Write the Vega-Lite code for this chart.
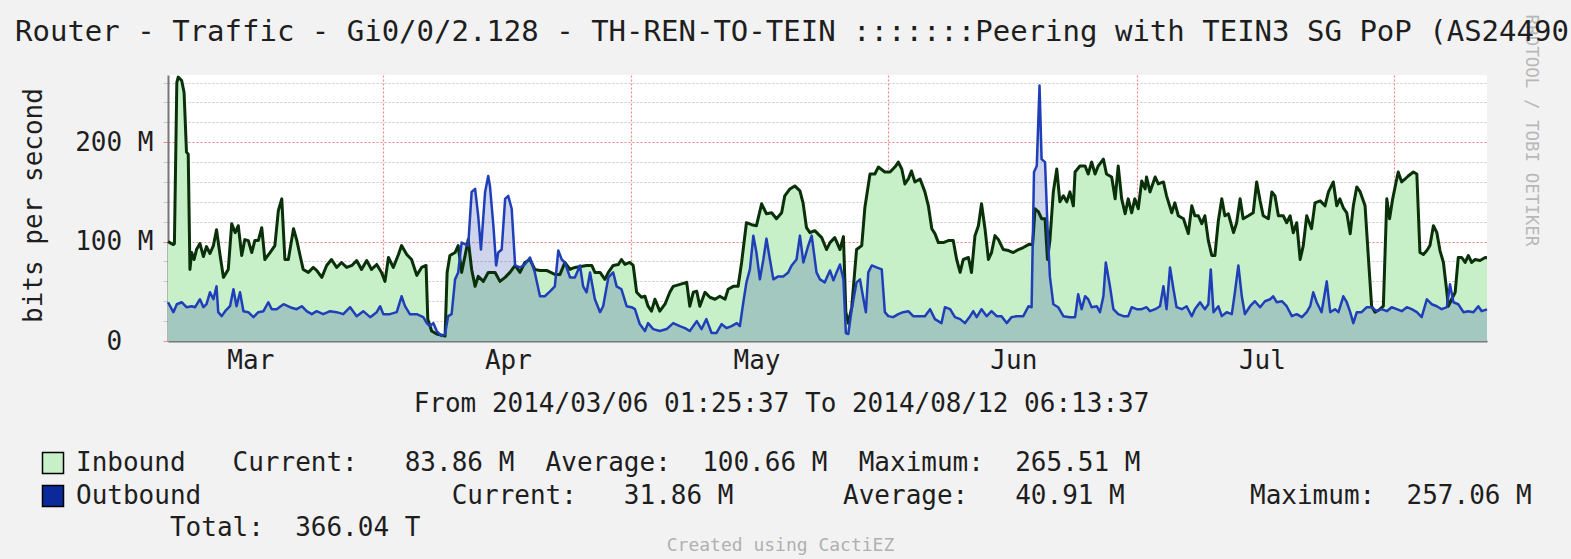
{
"$schema":"https://vega.github.io/schema/vega-lite/v6.json",
"width":1319,"height":266,
"autosize":{"type":"none"},
"padding":{"left":168,"top":75,"right":84,"bottom":218},
"background":"#f2f2f2",
"view":{"fill":"#ffffff","stroke":null},
"config":{"font":"DejaVu Sans Mono"},
"title":{"text":"Router - Traffic - Gi0/0/2.128 - TH-REN-TO-TEIN :::::::Peering with TEIN3 SG PoP (AS24490)","anchor":"start","frame":"group","dx":-153,"dy":93,"offset":37,"baseline":"alphabetic","font":"DejaVu Sans Mono","fontSize":29,"fontWeight":"normal","color":"#1e1e1e"},
"datasets":{
"inbound":[
{"t":"2014-03-06T01:26","v":100},{"t":"2014-03-06T17:00","v":97},{"t":"2014-03-06T20:00","v":98},{"t":"2014-03-07T03:00","v":260},{"t":"2014-03-07T07:00","v":265.5},{"t":"2014-03-07T17:00","v":262},{"t":"2014-03-08T00:00","v":250},{"t":"2014-03-08T07:00","v":190},{"t":"2014-03-08T12:00","v":188},{"t":"2014-03-08T17:00","v":72},{"t":"2014-03-08T22:00","v":89},{"t":"2014-03-09T05:00","v":82},{"t":"2014-03-09T12:00","v":92},{"t":"2014-03-09T22:00","v":98},{"t":"2014-03-10T08:00","v":85},{"t":"2014-03-10T17:00","v":95},{"t":"2014-03-11T03:00","v":88},{"t":"2014-03-11T13:00","v":96},{"t":"2014-03-11T22:00","v":112},{"t":"2014-03-12T08:00","v":87},{"t":"2014-03-12T18:00","v":64},{"t":"2014-03-13T08:00","v":72},{"t":"2014-03-13T18:00","v":118},{"t":"2014-03-14T04:00","v":109},{"t":"2014-03-14T13:00","v":116},{"t":"2014-03-14T23:00","v":86},{"t":"2014-03-15T08:00","v":102},{"t":"2014-03-15T18:00","v":101},{"t":"2014-03-16T04:00","v":89},{"t":"2014-03-16T13:00","v":101},{"t":"2014-03-16T23:00","v":101},{"t":"2014-03-17T09:00","v":114},{"t":"2014-03-17T18:00","v":82},{"t":"2014-03-18T09:00","v":89},{"t":"2014-03-18T23:00","v":96},{"t":"2014-03-19T09:00","v":131},{"t":"2014-03-19T19:00","v":143},{"t":"2014-03-20T04:00","v":82},{"t":"2014-03-20T14:00","v":82},{"t":"2014-03-21T05:00","v":113},{"t":"2014-03-21T14:00","v":102},{"t":"2014-03-22T00:00","v":86},{"t":"2014-03-22T09:00","v":72},{"t":"2014-03-23T00:00","v":69},{"t":"2014-03-23T14:00","v":74},{"t":"2014-03-24T00:00","v":71},{"t":"2014-03-24T15:00","v":64},{"t":"2014-03-25T05:00","v":76},{"t":"2014-03-25T19:00","v":82},{"t":"2014-03-26T10:00","v":74},{"t":"2014-03-27T00:00","v":79},{"t":"2014-03-27T15:00","v":74},{"t":"2014-03-28T06:00","v":76},{"t":"2014-03-28T20:00","v":81},{"t":"2014-03-29T10:00","v":72},{"t":"2014-03-30T01:00","v":81},{"t":"2014-03-30T15:00","v":72},{"t":"2014-03-31T06:00","v":77},{"t":"2014-03-31T20:00","v":69},{"t":"2014-04-01T06:00","v":60},{"t":"2014-04-01T16:00","v":84},{"t":"2014-04-02T06:00","v":74},{"t":"2014-04-02T21:00","v":87},{"t":"2014-04-03T06:00","v":96},{"t":"2014-04-03T21:00","v":87},{"t":"2014-04-04T11:00","v":82},{"t":"2014-04-05T02:00","v":66},{"t":"2014-04-05T16:00","v":74},{"t":"2014-04-06T05:00","v":76},{"t":"2014-04-06T10:00","v":22},{"t":"2014-04-06T21:00","v":10},{"t":"2014-04-07T12:00","v":7},{"t":"2014-04-08T12:00","v":5},{"t":"2014-04-08T18:00","v":69},{"t":"2014-04-09T02:00","v":86},{"t":"2014-04-09T17:00","v":89},{"t":"2014-04-10T02:00","v":96},{"t":"2014-04-10T12:00","v":69},{"t":"2014-04-10T22:00","v":86},{"t":"2014-04-11T07:00","v":102},{"t":"2014-04-11T17:00","v":72},{"t":"2014-04-12T03:00","v":55},{"t":"2014-04-12T12:00","v":65},{"t":"2014-04-13T03:00","v":60},{"t":"2014-04-13T17:00","v":69},
{"t":"2014-04-14T13:00","v":69},{"t":"2014-04-15T03:00","v":60},{"t":"2014-04-15T18:00","v":64},{"t":"2014-04-16T08:00","v":69},{"t":"2014-04-16T23:00","v":76},{"t":"2014-04-17T13:00","v":69},{"t":"2014-04-18T03:00","v":79},{"t":"2014-04-18T18:00","v":82},{"t":"2014-04-19T08:00","v":72},{"t":"2014-04-19T23:00","v":71},{"t":"2014-04-20T18:00","v":71},{"t":"2014-04-21T18:00","v":67},{"t":"2014-04-22T09:00","v":67},{"t":"2014-04-22T23:00","v":79},{"t":"2014-04-23T14:00","v":72},{"t":"2014-04-24T04:00","v":74},{"t":"2014-04-25T14:00","v":76},{"t":"2014-04-26T05:00","v":76},{"t":"2014-04-26T14:00","v":69},{"t":"2014-04-27T05:00","v":69},{"t":"2014-04-27T19:00","v":62},{"t":"2014-04-28T05:00","v":69},{"t":"2014-04-28T19:00","v":76},{"t":"2014-04-29T10:00","v":77},{"t":"2014-04-29T19:00","v":82},{"t":"2014-04-30T05:00","v":77},{"t":"2014-04-30T19:00","v":79},{"t":"2014-05-01T05:00","v":76},{"t":"2014-05-01T15:00","v":49},{"t":"2014-05-02T05:00","v":44},{"t":"2014-05-02T15:00","v":45},{"t":"2014-05-03T00:00","v":35},{"t":"2014-05-03T10:00","v":30},{"t":"2014-05-03T20:00","v":42},{"t":"2014-05-04T10:00","v":30},{"t":"2014-05-05T01:00","v":37},{"t":"2014-05-05T15:00","v":49},{"t":"2014-05-06T01:00","v":55},{"t":"2014-05-07T16:00","v":59},{"t":"2014-05-08T01:00","v":35},{"t":"2014-05-08T11:00","v":49},{"t":"2014-05-08T21:00","v":50},{"t":"2014-05-09T06:00","v":35},{"t":"2014-05-09T21:00","v":49},{"t":"2014-05-10T11:00","v":44},{"t":"2014-05-11T02:00","v":42},{"t":"2014-05-11T16:00","v":45},{"t":"2014-05-12T07:00","v":42},{"t":"2014-05-12T16:00","v":52},{"t":"2014-05-13T07:00","v":55},{"t":"2014-05-13T21:00","v":55},{"t":"2014-05-14T07:00","v":79},{"t":"2014-05-14T21:00","v":119},{"t":"2014-05-15T12:00","v":117},{"t":"2014-05-16T02:00","v":116},{"t":"2014-05-16T17:00","v":138},{"t":"2014-05-17T07:00","v":128},{"t":"2014-05-17T22:00","v":129},{"t":"2014-05-18T12:00","v":123},{"t":"2014-05-19T03:00","v":129},{"t":"2014-05-19T12:00","v":146},{"t":"2014-05-20T03:00","v":153},{"t":"2014-05-20T17:00","v":156},{"t":"2014-05-21T08:00","v":151},{"t":"2014-05-21T17:00","v":139},{"t":"2014-05-22T03:00","v":114},{"t":"2014-05-22T13:00","v":109},{"t":"2014-05-23T03:00","v":111},
{"t":"2014-05-23T23:00","v":104},{"t":"2014-05-24T13:00","v":92},{"t":"2014-05-24T23:00","v":99},{"t":"2014-05-25T13:00","v":104},{"t":"2014-05-26T04:00","v":92},{"t":"2014-05-26T14:00","v":105},{"t":"2014-05-26T21:00","v":29},{"t":"2014-05-27T04:00","v":18},{"t":"2014-05-27T14:00","v":34},{"t":"2014-05-28T04:00","v":92},{"t":"2014-05-28T19:00","v":96},{"t":"2014-05-29T04:00","v":134},{"t":"2014-05-29T19:00","v":168},{"t":"2014-05-30T09:00","v":168},{"t":"2014-05-30T19:00","v":175},{"t":"2014-05-31T14:00","v":170},{"t":"2014-06-01T05:00","v":170},{"t":"2014-06-01T19:00","v":175},{"t":"2014-06-02T05:00","v":180},{"t":"2014-06-02T15:00","v":173},{"t":"2014-06-03T00:00","v":158},{"t":"2014-06-03T10:00","v":163},{"t":"2014-06-03T19:00","v":171},{"t":"2014-06-04T05:00","v":160},{"t":"2014-06-04T20:00","v":163},{"t":"2014-06-05T10:00","v":150},{"t":"2014-06-05T20:00","v":136},{"t":"2014-06-06T06:00","v":113},{"t":"2014-06-06T15:00","v":108},{"t":"2014-06-07T01:00","v":99},{"t":"2014-06-07T15:00","v":99},{"t":"2014-06-08T06:00","v":101},{"t":"2014-06-08T20:00","v":101},{"t":"2014-06-09T06:00","v":82},{"t":"2014-06-09T16:00","v":69},{"t":"2014-06-10T01:00","v":82},{"t":"2014-06-10T16:00","v":84},{"t":"2014-06-11T01:00","v":69},{"t":"2014-06-11T11:00","v":106},{"t":"2014-06-11T21:00","v":116},{"t":"2014-06-12T06:00","v":138},{"t":"2014-06-12T16:00","v":113},{"t":"2014-06-13T02:00","v":82},{"t":"2014-06-13T11:00","v":89},{"t":"2014-06-13T21:00","v":106},{"t":"2014-06-14T07:00","v":102},{"t":"2014-06-14T21:00","v":92},{"t":"2014-06-15T12:00","v":91},{"t":"2014-06-16T02:00","v":89},{"t":"2014-06-16T17:00","v":92},{"t":"2014-06-17T07:00","v":94},{"t":"2014-06-17T22:00","v":97},{"t":"2014-06-18T10:00","v":97},{"t":"2014-06-18T17:00","v":133},{"t":"2014-06-19T03:00","v":130},{"t":"2014-06-19T12:00","v":123},{"t":"2014-06-19T22:00","v":123},{"t":"2014-06-20T05:00","v":82},{"t":"2014-06-20T12:00","v":101},{"t":"2014-06-20T22:00","v":150},{"t":"2014-06-21T08:00","v":173},{"t":"2014-06-21T17:00","v":140},{"t":"2014-06-22T03:00","v":146},{"t":"2014-06-22T13:00","v":140},{"t":"2014-06-22T22:00","v":150},{"t":"2014-06-23T08:00","v":136},{"t":"2014-06-23T13:00","v":170},{"t":"2014-06-24T03:00","v":176},{"t":"2014-06-24T18:00","v":176},{"t":"2014-06-25T03:00","v":168},{"t":"2014-06-25T13:00","v":180},{"t":"2014-06-25T23:00","v":168},{"t":"2014-06-26T08:00","v":176},{"t":"2014-06-26T23:00","v":183},{"t":"2014-06-27T08:00","v":168},{"t":"2014-06-27T23:00","v":165},{"t":"2014-06-28T09:00","v":143},{"t":"2014-06-28T18:00","v":176},{"t":"2014-06-29T04:00","v":143},{"t":"2014-06-29T14:00","v":128},{"t":"2014-06-29T23:00","v":143},{"t":"2014-06-30T09:00","v":129},{"t":"2014-06-30T18:00","v":143},{"t":"2014-07-01T04:00","v":133},{"t":"2014-07-01T14:00","v":161},{"t":"2014-07-02T00:00","v":153},
{"t":"2014-07-02T04:00","v":165},{"t":"2014-07-02T14:00","v":150},{"t":"2014-07-03T05:00","v":165},{"t":"2014-07-03T14:00","v":158},{"t":"2014-07-04T05:00","v":160},{"t":"2014-07-04T14:00","v":146},{"t":"2014-07-05T05:00","v":129},{"t":"2014-07-05T14:00","v":139},{"t":"2014-07-06T00:00","v":126},{"t":"2014-07-06T15:00","v":123},{"t":"2014-07-07T05:00","v":108},{"t":"2014-07-07T15:00","v":136},{"t":"2014-07-08T00:00","v":126},{"t":"2014-07-08T10:00","v":126},{"t":"2014-07-08T20:00","v":118},{"t":"2014-07-09T05:00","v":126},{"t":"2014-07-09T15:00","v":101},{"t":"2014-07-10T01:00","v":86},{"t":"2014-07-10T10:00","v":86},{"t":"2014-07-10T20:00","v":121},{"t":"2014-07-11T06:00","v":143},{"t":"2014-07-11T15:00","v":126},{"t":"2014-07-12T01:00","v":128},{"t":"2014-07-12T16:00","v":109},{"t":"2014-07-13T01:00","v":119},{"t":"2014-07-13T11:00","v":143},{"t":"2014-07-13T20:00","v":123},{"t":"2014-07-14T11:00","v":126},{"t":"2014-07-15T01:00","v":129},{"t":"2014-07-15T11:00","v":160},{"t":"2014-07-15T21:00","v":141},{"t":"2014-07-16T06:00","v":126},{"t":"2014-07-16T21:00","v":123},{"t":"2014-07-17T07:00","v":150},{"t":"2014-07-17T16:00","v":146},{"t":"2014-07-18T02:00","v":126},{"t":"2014-07-18T16:00","v":126},{"t":"2014-07-19T02:00","v":119},{"t":"2014-07-19T12:00","v":126},{"t":"2014-07-19T21:00","v":109},{"t":"2014-07-20T07:00","v":119},{"t":"2014-07-20T17:00","v":82},{"t":"2014-07-21T02:00","v":96},{"t":"2014-07-21T12:00","v":126},{"t":"2014-07-22T02:00","v":113},{"t":"2014-07-22T12:00","v":139},{"t":"2014-07-23T03:00","v":141},{"t":"2014-07-23T17:00","v":136},{"t":"2014-07-24T03:00","v":150},{"t":"2014-07-24T17:00","v":160},{"t":"2014-07-25T03:00","v":136},{"t":"2014-07-25T12:00","v":143},{"t":"2014-07-25T22:00","v":134},{"t":"2014-07-26T08:00","v":129},{"t":"2014-07-26T18:00","v":108},{"t":"2014-07-27T03:00","v":136},{"t":"2014-07-27T13:00","v":155},{"t":"2014-07-27T23:00","v":150},{"t":"2014-07-28T13:00","v":136},{"t":"2014-07-28T23:00","v":82},{"t":"2014-07-29T08:00","v":35},{"t":"2014-07-29T18:00","v":29},{"t":"2014-07-30T08:00","v":32},{"t":"2014-07-30T18:00","v":35},{"t":"2014-07-31T04:00","v":143},{"t":"2014-07-31T12:00","v":123},{"t":"2014-07-31T21:00","v":143},{"t":"2014-08-01T04:00","v":155},{"t":"2014-08-01T13:00","v":170},{"t":"2014-08-01T23:00","v":160},{"t":"2014-08-02T09:00","v":163},{"t":"2014-08-02T18:00","v":166},{"t":"2014-08-03T09:00","v":170},{"t":"2014-08-03T19:00","v":168},{"t":"2014-08-04T04:00","v":89},{"t":"2014-08-04T14:00","v":87},{"t":"2014-08-05T00:00","v":91},{"t":"2014-08-05T09:00","v":96},{"t":"2014-08-05T19:00","v":116},{"t":"2014-08-06T05:00","v":109},{"t":"2014-08-06T14:00","v":91},{"t":"2014-08-07T00:00","v":79},{"t":"2014-08-07T10:00","v":49},{"t":"2014-08-07T14:00","v":35},{"t":"2014-08-08T00:00","v":42},{"t":"2014-08-08T10:00","v":49},{"t":"2014-08-08T19:00","v":84},{"t":"2014-08-09T05:00","v":84},{"t":"2014-08-09T15:00","v":79},{"t":"2014-08-10T00:00","v":86},{"t":"2014-08-10T10:00","v":79},{"t":"2014-08-10T20:00","v":82},{"t":"2014-08-11T10:00","v":81},{"t":"2014-08-12T01:00","v":84},{"t":"2014-08-12T06:13","v":83.86}
],
"outbound":[
{"t":"2014-03-06T01:26","v":39},{"t":"2014-03-06T17:00","v":29},{"t":"2014-03-07T03:00","v":37},{"t":"2014-03-07T17:00","v":39},{"t":"2014-03-08T07:00","v":34},{"t":"2014-03-08T22:00","v":35},{"t":"2014-03-09T08:00","v":34},{"t":"2014-03-09T22:00","v":42},{"t":"2014-03-10T08:00","v":34},{"t":"2014-03-10T17:00","v":37},{"t":"2014-03-11T03:00","v":49},{"t":"2014-03-11T13:00","v":42},{"t":"2014-03-11T22:00","v":55},{"t":"2014-03-12T03:00","v":29},{"t":"2014-03-12T13:00","v":25},{"t":"2014-03-12T23:00","v":30},{"t":"2014-03-13T13:00","v":35},{"t":"2014-03-13T23:00","v":52},{"t":"2014-03-14T08:00","v":35},{"t":"2014-03-14T18:00","v":49},{"t":"2014-03-15T04:00","v":30},{"t":"2014-03-15T18:00","v":29},{"t":"2014-03-16T09:00","v":24},{"t":"2014-03-16T23:00","v":29},{"t":"2014-03-17T14:00","v":30},{"t":"2014-03-18T04:00","v":39},{"t":"2014-03-18T14:00","v":32},{"t":"2014-03-19T04:00","v":32},{"t":"2014-03-20T00:00","v":37},{"t":"2014-03-20T19:00","v":34},{"t":"2014-03-21T14:00","v":32},{"t":"2014-03-22T05:00","v":35},{"t":"2014-03-22T19:00","v":30},{"t":"2014-03-23T10:00","v":27},{"t":"2014-03-24T00:00","v":30},{"t":"2014-03-24T19:00","v":27},{"t":"2014-03-25T15:00","v":30},{"t":"2014-03-26T10:00","v":29},{"t":"2014-03-27T05:00","v":27},{"t":"2014-03-28T01:00","v":34},{"t":"2014-03-28T20:00","v":25},{"t":"2014-03-29T15:00","v":30},{"t":"2014-03-30T11:00","v":24},{"t":"2014-03-31T06:00","v":29},{"t":"2014-03-31T16:00","v":35},{"t":"2014-04-01T01:00","v":27},{"t":"2014-04-01T20:00","v":27},{"t":"2014-04-02T16:00","v":29},{"t":"2014-04-03T06:00","v":45},{"t":"2014-04-03T16:00","v":35},{"t":"2014-04-04T06:00","v":27},{"t":"2014-04-05T02:00","v":27},{"t":"2014-04-05T21:00","v":24},{"t":"2014-04-06T07:00","v":18},{"t":"2014-04-06T16:00","v":15},{"t":"2014-04-07T02:00","v":18},{"t":"2014-04-07T12:00","v":10},{"t":"2014-04-08T02:00","v":5},{"t":"2014-04-08T12:00","v":7},{"t":"2014-04-08T21:00","v":25},{"t":"2014-04-09T07:00","v":27},{"t":"2014-04-09T17:00","v":62},{"t":"2014-04-10T02:00","v":69},{"t":"2014-04-10T12:00","v":99},{"t":"2014-04-11T07:00","v":96},{"t":"2014-04-11T17:00","v":150},{"t":"2014-04-12T03:00","v":153},{"t":"2014-04-12T12:00","v":126},{"t":"2014-04-12T20:00","v":92},{"t":"2014-04-13T08:00","v":150},{"t":"2014-04-13T17:00","v":166},{"t":"2014-04-13T22:00","v":156},{"t":"2014-04-14T08:00","v":116},{"t":"2014-04-14T16:00","v":76},{"t":"2014-04-14T22:00","v":89},{"t":"2014-04-15T08:00","v":92},{"t":"2014-04-15T18:00","v":143},{"t":"2014-04-16T03:00","v":146},{"t":"2014-04-16T13:00","v":133},{"t":"2014-04-16T23:00","v":76},{"t":"2014-04-17T13:00","v":74},{"t":"2014-04-18T03:00","v":77},{"t":"2014-04-18T18:00","v":84},{"t":"2014-04-19T08:00","v":69},{"t":"2014-04-19T23:00","v":45},{"t":"2014-04-20T13:00","v":45},{"t":"2014-04-21T04:00","v":50},{"t":"2014-04-21T18:00","v":55},{"t":"2014-04-22T04:00","v":91},{"t":"2014-04-22T14:00","v":82},{"t":"2014-04-22T23:00","v":79},{"t":"2014-04-23T14:00","v":64},{"t":"2014-04-24T04:00","v":64},{"t":"2014-04-24T19:00","v":76},{"t":"2014-04-25T04:00","v":55},{"t":"2014-04-25T14:00","v":49},{"t":"2014-04-26T00:00","v":69},{"t":"2014-04-26T14:00","v":42},{"t":"2014-04-27T05:00","v":29},{"t":"2014-04-27T14:00","v":35},{"t":"2014-04-28T05:00","v":64},{"t":"2014-04-28T19:00","v":69},{"t":"2014-04-29T05:00","v":55},{"t":"2014-04-29T19:00","v":52},{"t":"2014-04-30T10:00","v":35},{"t":"2014-05-01T00:00","v":34},{"t":"2014-05-01T10:00","v":32},{"t":"2014-05-02T00:00","v":17},{"t":"2014-05-02T15:00","v":10},{"t":"2014-05-03T00:00","v":18},{"t":"2014-05-03T15:00","v":12},{"t":"2014-05-04T10:00","v":10},{"t":"2014-05-05T06:00","v":12},{"t":"2014-05-06T01:00","v":18},{"t":"2014-05-06T20:00","v":15},{"t":"2014-05-07T11:00","v":13},{"t":"2014-05-08T01:00","v":10},{"t":"2014-05-08T21:00","v":20},{"t":"2014-05-09T11:00","v":12},{"t":"2014-05-10T01:00","v":22},{"t":"2014-05-10T16:00","v":8},{"t":"2014-05-11T06:00","v":8},{"t":"2014-05-11T21:00","v":17},{"t":"2014-05-12T11:00","v":13},{"t":"2014-05-13T02:00","v":15},{"t":"2014-05-13T17:00","v":18},{"t":"2014-05-14T02:00","v":15},{"t":"2014-05-14T12:00","v":39},{"t":"2014-05-14T21:00","v":59},{"t":"2014-05-15T07:00","v":72},{"t":"2014-05-15T17:00","v":106},{"t":"2014-05-16T02:00","v":89},{"t":"2014-05-16T12:00","v":62},{"t":"2014-05-16T22:00","v":82},{"t":"2014-05-17T07:00","v":103},{"t":"2014-05-17T17:00","v":82},{"t":"2014-05-18T03:00","v":62},{"t":"2014-05-18T17:00","v":65},{"t":"2014-05-19T08:00","v":65},{"t":"2014-05-19T22:00","v":69},{"t":"2014-05-20T08:00","v":76},{"t":"2014-05-20T22:00","v":82},{"t":"2014-05-21T08:00","v":106},{"t":"2014-05-21T18:00","v":79},{"t":"2014-05-22T08:00","v":96},{"t":"2014-05-22T18:00","v":106},{"t":"2014-05-23T08:00","v":69},{"t":"2014-05-23T18:00","v":62},{"t":"2014-05-24T08:00","v":59},{"t":"2014-05-24T23:00","v":71},{"t":"2014-05-25T09:00","v":61},{"t":"2014-05-25T18:00","v":69},{"t":"2014-05-26T04:00","v":77},{"t":"2014-05-26T14:00","v":62},{"t":"2014-05-26T21:00","v":8},{"t":"2014-05-27T04:00","v":7},{"t":"2014-05-27T14:00","v":32},{"t":"2014-05-28T04:00","v":59},{"t":"2014-05-28T14:00","v":62},{"t":"2014-05-29T00:00","v":42},{"t":"2014-05-29T07:00","v":29},{"t":"2014-05-29T14:00","v":69},{"t":"2014-05-30T00:00","v":76},{"t":"2014-05-30T14:00","v":74},{"t":"2014-05-31T05:00","v":72},{"t":"2014-05-31T14:00","v":29},{"t":"2014-06-01T00:00","v":25},{"t":"2014-06-01T14:00","v":24},{"t":"2014-06-02T05:00","v":27},{"t":"2014-06-02T19:00","v":29},{"t":"2014-06-03T10:00","v":30},{"t":"2014-06-04T00:00","v":25},{"t":"2014-06-04T20:00","v":25},{"t":"2014-06-05T10:00","v":25},{"t":"2014-06-06T01:00","v":32},{"t":"2014-06-06T15:00","v":22},{"t":"2014-06-07T10:00","v":18},{"t":"2014-06-07T20:00","v":34},{"t":"2014-06-08T11:00","v":32},{"t":"2014-06-09T01:00","v":24},{"t":"2014-06-09T16:00","v":22},{"t":"2014-06-10T06:00","v":18},{"t":"2014-06-10T21:00","v":25},{"t":"2014-06-11T06:00","v":30},{"t":"2014-06-11T16:00","v":24},{"t":"2014-06-12T06:00","v":32},{"t":"2014-06-12T21:00","v":25},{"t":"2014-06-13T11:00","v":30},{"t":"2014-06-14T02:00","v":25},{"t":"2014-06-14T16:00","v":25},{"t":"2014-06-15T07:00","v":18},{"t":"2014-06-15T21:00","v":24},{"t":"2014-06-16T12:00","v":25},{"t":"2014-06-17T07:00","v":25},{"t":"2014-06-17T22:00","v":35},{"t":"2014-06-18T07:00","v":34},{"t":"2014-06-18T14:00","v":170},{"t":"2014-06-18T22:00","v":176},{"t":"2014-06-19T06:00","v":257.06},{"t":"2014-06-19T12:00","v":183},{"t":"2014-06-19T22:00","v":180},{"t":"2014-06-20T05:00","v":116},{"t":"2014-06-20T12:00","v":65},{"t":"2014-06-20T22:00","v":37},{"t":"2014-06-21T12:00","v":34},{"t":"2014-06-22T03:00","v":25},{"t":"2014-06-22T22:00","v":24},{"t":"2014-06-23T13:00","v":24},{"t":"2014-06-23T22:00","v":47},{"t":"2014-06-24T08:00","v":32},{"t":"2014-06-24T18:00","v":45},{"t":"2014-06-25T03:00","v":42},{"t":"2014-06-25T13:00","v":34},{"t":"2014-06-26T04:00","v":35},{"t":"2014-06-26T13:00","v":29},{"t":"2014-06-26T23:00","v":45},{"t":"2014-06-27T06:00","v":79},{"t":"2014-06-27T18:00","v":55},{"t":"2014-06-28T04:00","v":32},{"t":"2014-06-28T18:00","v":27},{"t":"2014-06-29T09:00","v":25},{"t":"2014-06-29T23:00","v":25},{"t":"2014-06-30T09:00","v":34},{"t":"2014-06-30T23:00","v":32},{"t":"2014-07-01T14:00","v":32},{"t":"2014-07-02T04:00","v":34},{"t":"2014-07-02T14:00","v":30},{"t":"2014-07-03T05:00","v":32},{"t":"2014-07-03T19:00","v":35},{"t":"2014-07-04T05:00","v":55},{"t":"2014-07-04T14:00","v":32},{"t":"2014-07-05T00:00","v":74},{"t":"2014-07-05T10:00","v":52},{"t":"2014-07-05T19:00","v":34},{"t":"2014-07-06T10:00","v":32},{"t":"2014-07-07T00:00","v":35},{"t":"2014-07-07T15:00","v":25},{"t":"2014-07-08T00:00","v":32},{"t":"2014-07-08T15:00","v":39},{"t":"2014-07-09T05:00","v":32},{"t":"2014-07-09T15:00","v":37},{"t":"2014-07-09T22:00","v":72},{"t":"2014-07-10T06:00","v":29},{"t":"2014-07-10T20:00","v":35},{"t":"2014-07-11T06:00","v":25},{"t":"2014-07-11T20:00","v":29},{"t":"2014-07-12T11:00","v":27},{"t":"2014-07-12T20:00","v":49},{"t":"2014-07-13T06:00","v":76},{"t":"2014-07-13T16:00","v":45},{"t":"2014-07-14T01:00","v":27},{"t":"2014-07-14T16:00","v":35},{"t":"2014-07-15T06:00","v":40},{"t":"2014-07-15T21:00","v":34},{"t":"2014-07-16T11:00","v":40},{"t":"2014-07-17T02:00","v":42},{"t":"2014-07-17T11:00","v":45},{"t":"2014-07-17T21:00","v":39},{"t":"2014-07-18T12:00","v":40},{"t":"2014-07-19T02:00","v":35},{"t":"2014-07-19T17:00","v":25},{"t":"2014-07-20T07:00","v":27},{"t":"2014-07-20T22:00","v":24},{"t":"2014-07-21T12:00","v":29},{"t":"2014-07-21T22:00","v":35},{"t":"2014-07-22T07:00","v":49},{"t":"2014-07-22T17:00","v":39},{"t":"2014-07-23T07:00","v":29},{"t":"2014-07-23T22:00","v":60},{"t":"2014-07-24T08:00","v":29},{"t":"2014-07-24T22:00","v":32},{"t":"2014-07-25T08:00","v":29},{"t":"2014-07-25T22:00","v":45},{"t":"2014-07-26T08:00","v":39},{"t":"2014-07-26T18:00","v":29},{"t":"2014-07-27T03:00","v":18},{"t":"2014-07-27T13:00","v":29},{"t":"2014-07-28T03:00","v":29},{"t":"2014-07-28T18:00","v":34},{"t":"2014-07-29T08:00","v":34},{"t":"2014-07-29T23:00","v":30},{"t":"2014-07-30T13:00","v":32},{"t":"2014-07-31T04:00","v":30},{"t":"2014-07-31T18:00","v":34},{"t":"2014-08-01T09:00","v":32},{"t":"2014-08-01T23:00","v":30},{"t":"2014-08-02T14:00","v":34},{"t":"2014-08-03T04:00","v":32},{"t":"2014-08-03T19:00","v":29},{"t":"2014-08-04T09:00","v":24},{"t":"2014-08-05T00:00","v":42},{"t":"2014-08-05T14:00","v":37},{"t":"2014-08-06T05:00","v":35},{"t":"2014-08-06T19:00","v":32},{"t":"2014-08-07T10:00","v":34},{"t":"2014-08-07T19:00","v":57},{"t":"2014-08-08T05:00","v":39},{"t":"2014-08-08T19:00","v":37},{"t":"2014-08-09T10:00","v":29},{"t":"2014-08-10T00:00","v":30},{"t":"2014-08-10T15:00","v":29},{"t":"2014-08-11T05:00","v":35},{"t":"2014-08-11T15:00","v":30},{"t":"2014-08-12T06:13","v":31.86}
]
},
"layer":[
{"data":{"name":"inbound"},
 "mark":{"type":"area"},
 "encoding":{
  "x":{"field":"t","type":"temporal",
   "scale":{"domain":[{"year":2014,"month":3,"date":6,"hours":1,"minutes":25,"seconds":37},{"year":2014,"month":8,"date":12,"hours":6,"minutes":13,"seconds":37}]},
   "axis":{"orient":"bottom",
    "values":[{"year":2014,"month":3,"date":16},{"year":2014,"month":4,"date":1},{"year":2014,"month":5,"date":1},{"year":2014,"month":6,"date":1},{"year":2014,"month":7,"date":1},{"year":2014,"month":8,"date":1}],
    "labelExpr":"month(datum.value)==7 ? '' : timeFormat(datum.value, '%b')",
    "labelOffset":{"condition":{"test":"month(datum.value)==2","value":0},"value":125},
    "labelFlush":false,"labelOverlap":false,"labelBound":false,
    "labelFont":"DejaVu Sans Mono","labelFontSize":26,"labelColor":"#1e1e1e","labelPadding":6,"labelBaseline":"top","labelAlign":"center",
    "ticks":false,
    "grid":true,"gridColor":"#f08888","gridDash":[2,2],"gridWidth":1.2,
    "gridOpacity":{"condition":{"test":"month(datum.value)==2","value":0},"value":1},
    "domainColor":"#777777","domainWidth":2,
    "title":"From 2014/03/06 01:25:37 To 2014/08/12 06:13:37",
    "titleFont":"DejaVu Sans Mono","titleFontSize":26,"titleFontWeight":"normal","titleColor":"#1e1e1e",
    "titleX":613,"titleY":62,"titleAlign":"center","titleBaseline":"middle","titleAnchor":"start"}},
  "y":{"field":"v","type":"quantitative","stack":null,
   "scale":{"domain":[0,267.6],"nice":false,"zero":false},
   "axis":{"orient":"left",
    "values":[0,20,40,60,80,100,120,140,160,180,200,220,240,260],
    "labelExpr":"datum.value==0 ? '0\u00a0\u00a0\u200b' : (datum.value%100==0 ? datum.value+'\u00a0M' : '')",
    "labelFont":"DejaVu Sans Mono","labelFontSize":26,"labelColor":"#1e1e1e","labelPadding":10,
    "tickSize":5,"tickColor":{"condition":{"test":"datum.value%100==0","value":"#f08888"},"value":"#c8c8c8"},
    "grid":true,
    "gridColor":{"condition":{"test":"datum.value%100==0","value":"#f08888"},"value":"#c8c8c8"},
    "gridDash":[2,2],"gridWidth":1.2,
    "domainColor":"#777777","domainWidth":2,
    "title":"bits per second",
    "titleFont":"DejaVu Sans Mono","titleFontSize":26,"titleFontWeight":"normal","titleColor":"#1e1e1e",
    "titleAngle":270,"titleX":-135,"titleY":130,"titleAlign":"center","titleBaseline":"middle"}},
  "color":{"datum":"Inbound","type":"nominal",
   "scale":{"domain":["Inbound","Outbound","Total"],"range":["#c8f0c8","#0a2a9a","#f2f2f2"]},
   "legend":{"orient":"none","legendX":-128,"legendY":375,"direction":"vertical","padding":0,"title":null,
    "symbolType":"square","symbolSize":441,"symbolStrokeColor":"#000000","symbolStrokeWidth":1.5,
    "labelFont":"DejaVu Sans Mono","labelFontSize":26,"labelColor":"#1e1e1e","labelOffset":10,"labelLimit":3000,"rowPadding":5,
    "labelExpr":"datum.label=='Inbound' ? 'Inbound\u00a0\u00a0\u00a0Current:\u00a0\u00a0\u00a083.86\u00a0M\u00a0\u00a0Average:\u00a0\u00a0100.66\u00a0M\u00a0\u00a0Maximum:\u00a0\u00a0265.51\u00a0M' : (datum.label=='Outbound' ? 'Outbound\u00a0\u00a0\u00a0\u00a0\u00a0\u00a0\u00a0\u00a0\u00a0\u00a0\u00a0\u00a0\u00a0\u00a0\u00a0\u00a0Current:\u00a0\u00a0\u00a031.86\u00a0M\u00a0\u00a0\u00a0\u00a0\u00a0\u00a0\u00a0Average:\u00a0\u00a0\u00a040.91\u00a0M\u00a0\u00a0\u00a0\u00a0\u00a0\u00a0\u00a0\u00a0Maximum:\u00a0\u00a0257.06\u00a0M' : '\u200b\u00a0\u00a0\u00a0\u00a0\u00a0\u00a0Total:\u00a0\u00a0366.04\u00a0T')",
    "encode":{"symbols":{"update":{"opacity":{"signal":"datum.value=='Total' ? 0 : 1"},"stroke":{"value":"#000000"},"strokeWidth":{"value":1.5}}}}}}
 }},
{"data":{"name":"outbound"},
 "mark":{"type":"area","color":"#0a2a9a","fillOpacity":0.2},
 "encoding":{
  "x":{"field":"t","type":"temporal","axis":null},
  "y":{"field":"v","type":"quantitative","stack":null,"axis":null}}},
{"data":{"name":"inbound"},
 "mark":{"type":"line","color":"#0a300a","strokeWidth":3,"strokeJoin":"round"},
 "encoding":{
  "x":{"field":"t","type":"temporal",
   "axis":{"orient":"top","labels":false,"ticks":false,"domain":false,"grid":false,
    "title":"Created using CactiEZ","titleFont":"DejaVu Sans Mono","titleFontSize":18,"titleFontWeight":"normal","titleColor":"#b0b0b0",
    "titleX":612,"titleY":470,"titleAlign":"center","titleBaseline":"middle","titleAnchor":"start"}},
  "y":{"field":"v","type":"quantitative",
   "axis":{"orient":"right","labels":false,"ticks":false,"domain":false,"grid":false,
    "title":"RRDTOOL / TOBI OETIKER","titleFont":"DejaVu Sans Mono","titleFontSize":17.5,"titleFontWeight":"normal","titleColor":"#b8b8b8",
    "titleAngle":90,"titleX":43,"titleY":55,"titleAlign":"center","titleBaseline":"middle"}}}},
{"data":{"name":"outbound"},
 "mark":{"type":"line","color":"#1f3fb8","strokeWidth":2.5,"strokeJoin":"round"},
 "encoding":{
  "x":{"field":"t","type":"temporal","axis":null},
  "y":{"field":"v","type":"quantitative","axis":null}}}
],
"resolve":{"axis":{"x":"independent","y":"independent"}}
}
